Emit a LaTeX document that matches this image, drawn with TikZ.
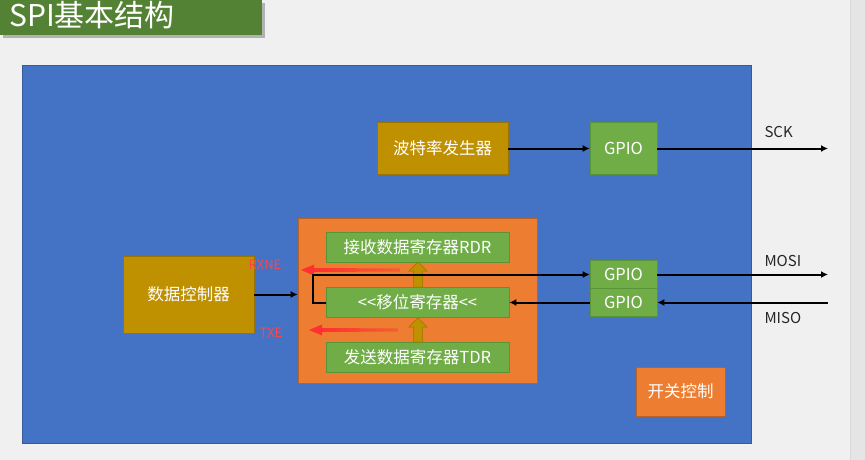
\documentclass[tikz,border=0pt]{standalone}
\usepackage{fontspec}
\setmainfont{Noto Sans CJK SC}
\usetikzlibrary{arrows.meta}
\definecolor{bg}{HTML}{F0F0F0}
\definecolor{strip}{HTML}{E5E5E5}
\definecolor{titlegreen}{HTML}{548235}
\definecolor{bluebg}{HTML}{4472C4}
\definecolor{gold}{HTML}{BF9000}
\definecolor{golddark}{HTML}{9A7400}
\definecolor{greenbox}{HTML}{70AD47}
\definecolor{greendark}{HTML}{5A9438}
\definecolor{orangebox}{HTML}{ED7D31}
\definecolor{orangedark}{HTML}{B9612A}
\definecolor{redlbl}{HTML}{FF4545}
\definecolor{redarrow}{HTML}{FF3030}
\definecolor{txtdark}{HTML}{262626}
\tikzset{
  box/.style={draw, line width=0.6pt, minimum width=#1, inner sep=0pt, text=white, font=\fontsize{16.5}{16.5}\selectfont},
  goldbox/.style={box=#1, fill=gold, draw=golddark},
  greenbx/.style={box=#1, fill=greenbox, draw=greendark},
  orangebx/.style={box=#1, fill=orangebox, draw=orangedark},
  arr/.style={line width=2pt, -{Latex[length=7pt,width=7pt]}},
  sig/.style={text=txtdark, font=\fontsize{15}{15}\selectfont},
  redl/.style={text=redlbl, font=\fontsize{13}{13}\selectfont},
  goldarrow/.style={fill=gold, draw=golddark, line width=0.5pt},
}
\begin{document}
\begin{tikzpicture}[x=1pt,y=-1pt]
\fill[bg] (0,0) rectangle (865,460);
\useasboundingbox (0,0) rectangle (865,460);
\fill[strip] (850,0) rectangle (865,460);
\draw[line width=0.6pt, black!15] (850,0) -- (850,460);
% title
\fill[black!30] (3,3) rectangle (265,38);
\fill[titlegreen] (0,0) rectangle (262,35);
\node[anchor=west, text=white, font=\fontsize{30}{30}\selectfont, inner sep=0pt] (title) at (9,15) {SPI基本结构};
% blue area
\draw[fill=bluebg, draw=bluebg!80!black, line width=0.6pt] (22,65) rectangle (751,443);
% boxes
\node[goldbox=131pt, minimum height=52pt] (baud) at (442.5,148.5) {波特率发生器};
\node[greenbx=67pt, minimum height=52pt] (gpio1) at (623.5,148.5) {GPIO};
\node[orangebx=239pt, minimum height=165pt] (spiblk) at (417.5,300.5) {};
\node[greenbx=183pt, minimum height=30pt] (rdr) at (417.5,247) {接收数据寄存器RDR};
\node[greenbx=183pt, minimum height=30pt] (shift) at (417.5,302.5) {{<}{<}移位寄存器{<}{<}};
\node[greenbx=183pt, minimum height=30pt] (tdr) at (417.5,357) {发送数据寄存器TDR};
\node[goldbox=131pt, minimum height=77pt] (ctrl) at (188.5,294.5) {数据控制器};
\node[greenbx=67pt, minimum height=28pt] (gpio2) at (623.5,274.5) {GPIO};
\node[greenbx=67pt, minimum height=28pt] (gpio3) at (623.5,302.5) {GPIO};
\node[orangebx=89pt, minimum height=49pt] (sw) at (680.5,391.5) {开关控制};
% gold up arrows
\fill[goldarrow] (413.5,287) -- (413.5,271) -- (409,271) -- (418,262) -- (427,271) -- (422.5,271) -- (422.5,287) -- cycle;
\fill[goldarrow] (413.5,342) -- (413.5,327) -- (409,327) -- (418,317.5) -- (427,327) -- (422.5,327) -- (422.5,342) -- cycle;
% red flag arrows
\shade[left color=redarrow, right color=orangebox!60!redarrow] (313,268) -- (400,268.5) -- (400,271.5) -- (313,272) -- cycle;
\fill[redarrow] (301,270) -- (314,264.5) -- (314,275.5) -- cycle;
\shade[left color=redarrow, right color=orangebox!60!redarrow] (321,328) -- (398,328.5) -- (398,331.5) -- (321,332) -- cycle;
\fill[redarrow] (309,330) -- (322,324.5) -- (322,335.5) -- cycle;
\node[redl] (rxne) at (265,265) {RXNE};
\node[redl] (txe) at (271,333) {TXE};
% connectors
\coordinate (sckend) at (828,148.5);
\coordinate (mosiend) at (828,274.5);
\coordinate (misostart) at (828,302.5);
\draw[arr] (baud.east) -- (gpio1.west);
\draw[arr] (gpio1.east) -- (sckend);
\draw[arr] (ctrl.east) -- (ctrl.east -| spiblk.west);
\draw[arr] (shift.west) -- ++(-13,0) |- (gpio2.west);
\draw[arr] (gpio2.east) -- (mosiend);
\draw[arr] (misostart) -- (gpio3.east);
\draw[arr] (gpio3.west) -- (shift.east);
% signal labels
\node[sig, anchor=west] (sck) at (761,132) {SCK};
\node[sig, anchor=west] (mosi) at (761,261) {MOSI};
\node[sig, anchor=west] (miso) at (761,318) {MISO};
\end{tikzpicture}
\end{document}
